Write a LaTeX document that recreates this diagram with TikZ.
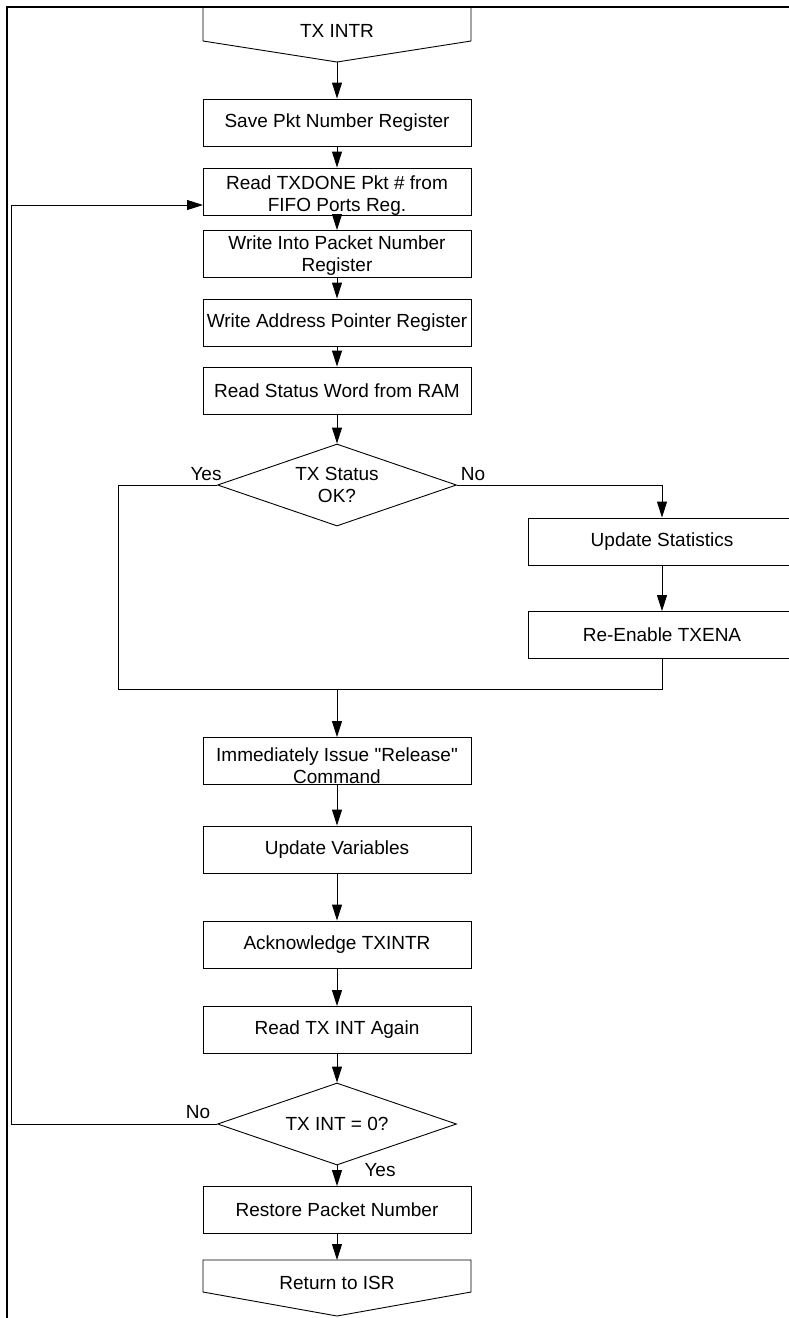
\documentclass[tikz,border=0pt]{standalone}
\usepackage{fontspec}
\setmainfont{Liberation Sans}[Ligatures=TeXOff]
\usetikzlibrary{shapes.geometric,arrows.meta}
\begin{document}
\begin{tikzpicture}[x=1pt,y=-1pt,
  box/.style={draw, line width=0.9pt, minimum width=268pt, minimum height=47pt, inner sep=0pt, align=center},
  dec/.style={draw, diamond, aspect=2.9, minimum width=239pt, minimum height=82pt, inner sep=0pt, align=center, line width=0.9pt},
  arr/.style={line width=0.9pt, -{Triangle[length=16pt,width=10pt]}},
  ln/.style={line width=0.9pt},
  lbl/.style={align=center, inner sep=0pt},
  frame/.style={line width=2.6pt},
  font=\fontsize{19}{22}\selectfont]
\useasboundingbox (0,0) rectangle (789,1318);
\clip (0,0) rectangle (789,1318);
% frame
\draw[frame] (7,1320) -- (7,7) -- (792,7);
% start
\node[lbl] (tx) at (337,31) {TX INTR};
\draw[ln] (203,7) -- (203,41) -- (337,62) -- (471,41) -- (471,7);
\coordinate (txp) at (337,62);
\node[box] (save) at (337,122.5) {Save Pkt Number Register};
\node[box, label={[lbl,yshift=-4pt]center:{Read TXDONE Pkt \# from\\FIFO Ports Reg.}}] (txdone) at (337,191.5) {};
\node[box, label={[lbl,yshift=-2pt]center:{Write Into Packet Number\\Register}}] (wint) at (337,254) {};
\node[box] (waddr) at (337,322.5) {Write Address Pointer Register};
\node[box] (rstat) at (337,390.5) {Read Status Word from RAM};
\node[dec] (d1) at (337,485) {TX Status\\OK?};
\node[box] (upst) at (662,541.5) {Update Statistics};
\node[box] (reen) at (662,635) {Re-Enable TXENA};
\node[box, label={[lbl,yshift=-4.5pt]center:{Immediately Issue "Release"\\Command}}] (imm) at (337,761) {};
\node[box] (upvar) at (337,849.5) {Update Variables};
\node[box] (ack) at (337,944.5) {Acknowledge TXINTR};
\node[box] (rtx) at (337,1030) {Read TX INT Again};
\node[dec] (d2) at (337,1124) {TX INT = 0?};
\node[box] (rest) at (337,1210) {Restore Packet Number};
\draw[ln] (203,1260) -- (471,1260) -- (471,1292) -- (337,1316) -- (203,1292) -- cycle;
\node[lbl] (ret) at (337,1283) {Return to ISR};
\coordinate (rett) at (337,1260);
% branch labels
\node[lbl] (yes1) at (206,474) {Yes};
\node[lbl] (no1) at (473,474) {No};
\node[lbl] (no2) at (198,1112) {No};
\node[lbl] (yes2) at (380,1170) {Yes};
% coordinates
\coordinate (nr) at (662,485);
\coordinate (jr) at (662,689);
\coordinate (jl) at (118,689);
\coordinate (yl) at (118,485);
\coordinate (jm) at (337,689);
\coordinate (lp1) at (11,1124);
\coordinate (lp2) at (11,205);
\coordinate (lp3) at (203,205);
% connectors
\draw[arr] (txp) -- (save.north);
\draw[arr] (save.south) -- (txdone.north);
\draw[arr] (txdone.south) -- (wint.north);
\draw[arr] (wint.south) -- (waddr.north);
\draw[arr] (waddr.south) -- (rstat.north);
\draw[arr] (rstat.south) -- (d1.north);
\draw[arr] (d1.east) -- (nr) -- (upst.north);
\draw[arr] (upst.south) -- (reen.north);
\draw[ln] (reen.south) -- (jr) -- (jl) -- (yl) -- (d1.west);
\draw[arr] (jm) -- (imm.north);
\draw[arr] (imm.south) -- (upvar.north);
\draw[arr] (upvar.south) -- (ack.north);
\draw[arr] (ack.south) -- (rtx.north);
\draw[arr] (rtx.south) -- (d2.north);
\draw[arr] (d2.south) -- (rest.north);
\draw[arr] (rest.south) -- (rett);
\draw[arr] (d2.west) -- (lp1) -- (lp2) -- (lp3);
\end{tikzpicture}
\end{document}
